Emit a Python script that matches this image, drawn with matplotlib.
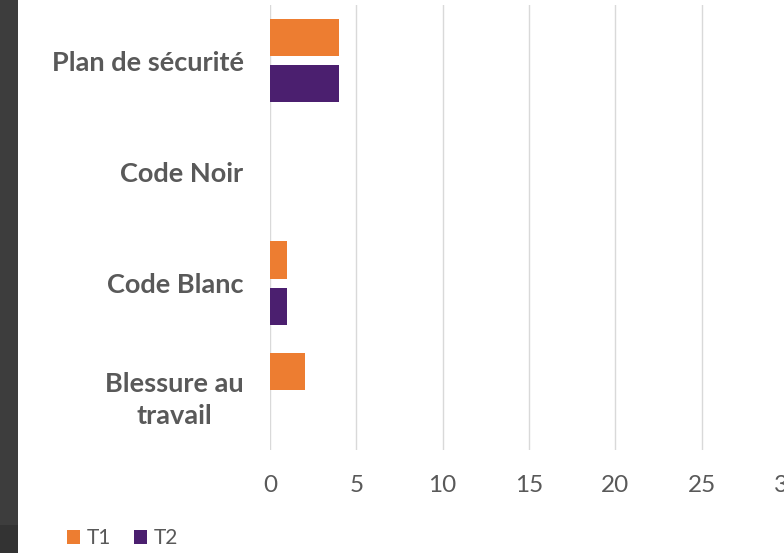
import numpy as np
import matplotlib.pyplot as plt
from matplotlib.patches import Rectangle

# Data
categories = ['Plan de sécurité', 'Code Noir', 'Code Blanc', 'Blessure au\ntravail']
t1_values = [4, 0, 1, 2]
t2_values = [4, 0, 1, 0]
x_ticks = [0, 5, 10, 15, 20, 25, 30]

orange = '#ED7D31'
purple = '#4B1F6F'
text_color = '#595959'

plt.rcParams['font.family'] = ['Lato', 'DejaVu Sans']

fig = plt.figure(figsize=(7.84, 5.53), dpi=100)
fig.patch.set_facecolor('white')

# dark strip on the left edge
fig.patches.append(Rectangle((0, 0), 18 / 784, 1, transform=fig.transFigure,
                             facecolor='#3d3d3d', edgecolor='none', zorder=0))
fig.patches.append(Rectangle((0, 0), 18 / 784, 28 / 553, transform=fig.transFigure,
                             facecolor='#333333', edgecolor='none', zorder=0))

ax = fig.add_axes([270 / 784, 1 - 450 / 553, 518 / 784, 445 / 553])

y = np.arange(len(categories))
h = 0.335
off = 0.207
ax.barh(y - off, t1_values, height=h, color=orange, label='T1', zorder=3)
ax.barh(y + off, t2_values, height=h, color=purple, label='T2', zorder=3)

ax.set_xlim(0, 30)
ax.set_ylim(len(categories) - 0.5, -0.5)
ax.set_xticks(x_ticks)
ax.set_xticklabels([str(t) for t in x_ticks], fontsize=17.5, color=text_color)
ax.set_yticks(y)
ax.set_yticklabels(categories, fontsize=19.5, fontweight='bold', color=text_color,
                   linespacing=1.4, multialignment='center')
ax.tick_params(axis='y', length=0, pad=19)
ax.tick_params(axis='x', length=0, pad=18)

ax.grid(axis='x', color='#d9d9d9', linewidth=1, zorder=0)
for s in ax.spines.values():
    s.set_visible(False)

fig.legend(loc='lower left', bbox_to_anchor=(53 / 784, -9 / 553), ncol=2, frameon=False,
           fontsize=15, handlelength=0.65, handleheight=0.65, handletextpad=0.3,
           columnspacing=1.1, labelcolor=text_color, borderaxespad=0.25)

fig.savefig('out.png', dpi=100, facecolor='white')
